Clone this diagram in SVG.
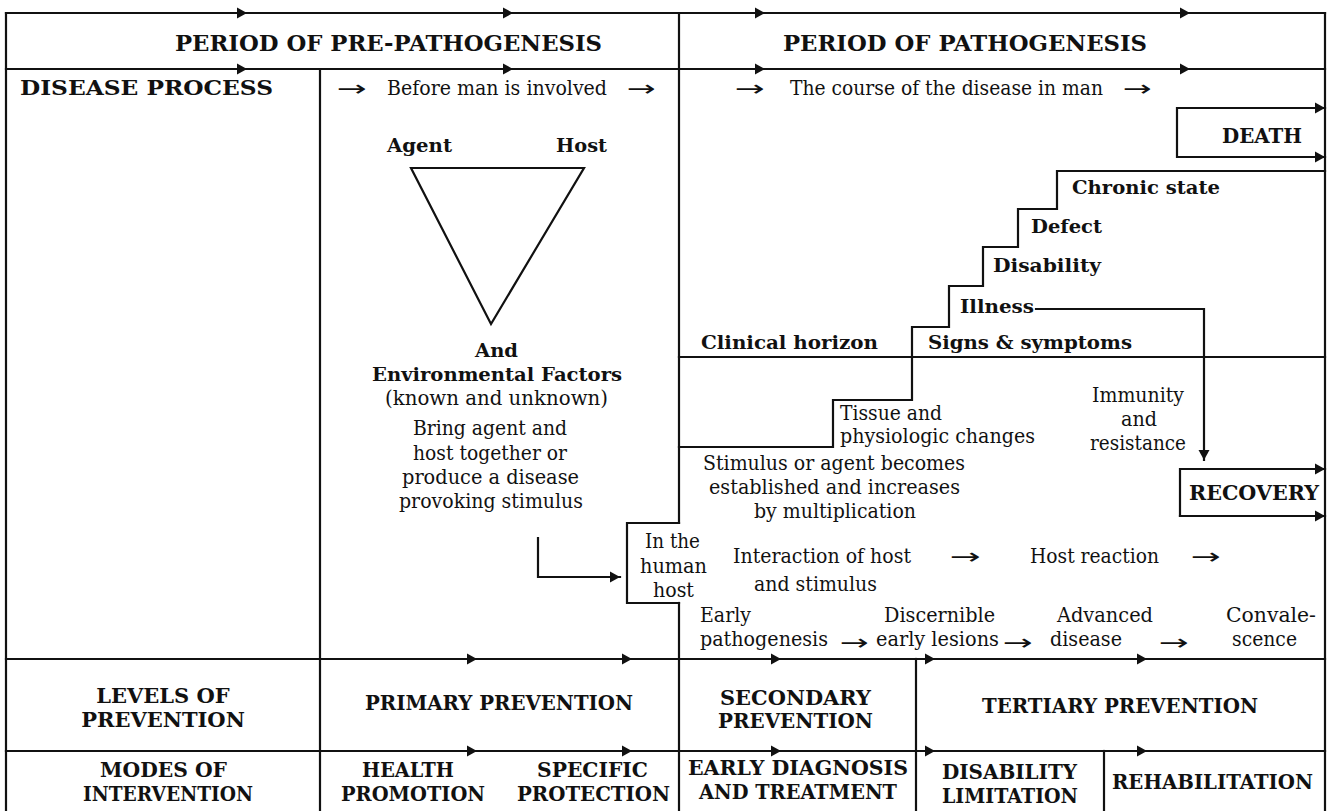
<svg xmlns="http://www.w3.org/2000/svg" xmlns:xlink="http://www.w3.org/1999/xlink" width="1332" height="811" viewBox="0 0 1332 811">
<defs>
<style>
.ln{stroke:#111;stroke-width:2.2;fill:none;stroke-linecap:square}
.tri{fill:#111}
.b{font-family:"DejaVu Serif","Liberation Serif",serif;font-weight:bold;fill:#111}
.r{font-family:"DejaVu Serif","Liberation Serif",serif;font-weight:normal;fill:#111;font-size:20px}
.ar{font-family:"DejaVu Sans","DejaVu Serif",sans-serif;font-weight:normal;fill:#111;font-size:22px}
.h{font-size:23px}
.m{font-size:21px}
.s{font-size:19px}
.c{text-anchor:middle}
</style>
<path id="ah" class="tri" d="M-10,-5.5 L0,0 L-10,5.5 Z"/>
<marker id="arr" markerWidth="12" markerHeight="12" refX="10" refY="6" orient="auto" markerUnits="userSpaceOnUse">
<path d="M0,0.5 L10,6 L0,11.5 Z" fill="#111"/>
</marker>
</defs>
<rect width="1332" height="811" fill="#fff"/>

<g id="frame">
<line class="ln" x1="6" y1="13" x2="1325" y2="13"/>
<line class="ln" x1="6" y1="13" x2="6" y2="811"/>
<line class="ln" x1="1325" y1="13" x2="1325" y2="811"/>
<line class="ln" x1="6" y1="69" x2="1325" y2="69"/>
<line class="ln" x1="320" y1="69" x2="320" y2="811"/>
<line class="ln" x1="679" y1="13" x2="679" y2="523"/>
<line class="ln" x1="679" y1="603" x2="679" y2="811"/>
<line class="ln" x1="6" y1="659" x2="1325" y2="659"/>
<line class="ln" x1="6" y1="751" x2="1325" y2="751"/>
<line class="ln" x1="916" y1="659" x2="916" y2="811"/>
<line class="ln" x1="1104" y1="751" x2="1104" y2="811"/>
<line class="ln" x1="679" y1="357" x2="1325" y2="357"/>
</g>

<g id="row-arrows">
<use xlink:href="#ah" x="247" y="13"/><use xlink:href="#ah" x="513" y="13"/><use xlink:href="#ah" x="765" y="13"/><use xlink:href="#ah" x="1190" y="13"/>
<use xlink:href="#ah" x="247" y="69"/><use xlink:href="#ah" x="513" y="69"/><use xlink:href="#ah" x="765" y="69"/><use xlink:href="#ah" x="1190" y="69"/>
<use xlink:href="#ah" x="477" y="659"/><use xlink:href="#ah" x="632" y="659"/><use xlink:href="#ah" x="781" y="659"/><use xlink:href="#ah" x="935" y="659"/><use xlink:href="#ah" x="1147" y="659"/>
<use xlink:href="#ah" x="477" y="751"/><use xlink:href="#ah" x="632" y="751"/><use xlink:href="#ah" x="781" y="751"/><use xlink:href="#ah" x="935" y="751"/><use xlink:href="#ah" x="1147" y="751"/>
</g>

<g id="headers">
<text class="b h" x="175" y="51" textLength="427" lengthAdjust="spacingAndGlyphs">PERIOD OF PRE-PATHOGENESIS</text>
<text class="b h" x="783" y="51" textLength="364" lengthAdjust="spacingAndGlyphs">PERIOD OF PATHOGENESIS</text>
<text class="b m" x="20" y="95" textLength="253" lengthAdjust="spacingAndGlyphs">DISEASE PROCESS</text>
<text class="ar" x="337" y="96" textLength="30" lengthAdjust="spacingAndGlyphs">→</text>
<text class="r" x="387" y="95" textLength="220" lengthAdjust="spacingAndGlyphs">Before man is involved</text>
<text class="ar" x="627" y="96" textLength="29" lengthAdjust="spacingAndGlyphs">→</text>
<text class="ar" x="735" y="96" textLength="30" lengthAdjust="spacingAndGlyphs">→</text>
<text class="r" x="790" y="95" textLength="313" lengthAdjust="spacingAndGlyphs">The course of the disease in man</text>
<text class="ar" x="1123" y="96" textLength="29" lengthAdjust="spacingAndGlyphs">→</text>
</g>

<g id="triad">
<polygon class="ln" points="411,168 584,168 491,324" stroke-linejoin="miter"/>
<text class="b s" x="387" y="152" textLength="65" lengthAdjust="spacingAndGlyphs">Agent</text>
<text class="b s" x="556" y="152" textLength="51" lengthAdjust="spacingAndGlyphs">Host</text>
<text class="b s" x="475" y="357" textLength="43" lengthAdjust="spacingAndGlyphs">And</text>
<text class="b s" x="372" y="381" textLength="250" lengthAdjust="spacingAndGlyphs">Environmental Factors</text>
<text class="r" x="385" y="405" textLength="223" lengthAdjust="spacingAndGlyphs">(known  and unknown)</text>
<text class="r" x="413" y="435" textLength="154" lengthAdjust="spacingAndGlyphs">Bring agent and</text>
<text class="r" x="413" y="460" textLength="154" lengthAdjust="spacingAndGlyphs">host together or</text>
<text class="r" x="402" y="484" textLength="177" lengthAdjust="spacingAndGlyphs">produce  a disease</text>
<text class="r" x="399" y="508" textLength="184" lengthAdjust="spacingAndGlyphs">provoking stimulus</text>
</g>

<g id="human-host">
<polyline class="ln" points="679,523 627,523 627,603 679,603"/>
<text class="r" x="645" y="548" textLength="55" lengthAdjust="spacingAndGlyphs">In the</text>
<text class="r" x="640" y="573" textLength="67" lengthAdjust="spacingAndGlyphs">human</text>
<text class="r" x="653" y="597" textLength="41" lengthAdjust="spacingAndGlyphs">host</text>
</g>

<g id="death">
<text class="b m" x="1222" y="143" textLength="80" lengthAdjust="spacingAndGlyphs">DEATH</text>
</g>

<g id="staircase">
<polyline class="ln" points="1325,171 1057,171 1057,209 1018,209 1018,247 983,247 983,286 949,286 949,327 912,327 912,400 833,400 833,447 679,447"/>
<text class="b s" x="1072" y="194" textLength="148" lengthAdjust="spacingAndGlyphs">Chronic state</text>
<text class="b s" x="1031" y="233" textLength="71" lengthAdjust="spacingAndGlyphs">Defect</text>
<text class="b s" x="993" y="272" textLength="108" lengthAdjust="spacingAndGlyphs">Disability</text>
<text class="b s" x="960" y="313" textLength="74" lengthAdjust="spacingAndGlyphs">Illness</text>
<text class="b s" x="928" y="349" textLength="204" lengthAdjust="spacingAndGlyphs">Signs &amp; symptoms</text>
<text class="b s" x="701" y="349" textLength="177" lengthAdjust="spacingAndGlyphs">Clinical horizon</text>
</g>

<g id="subclinical">
<text class="r" x="840" y="420" textLength="102" lengthAdjust="spacingAndGlyphs">Tissue and</text>
<text class="r" x="840" y="443" textLength="195" lengthAdjust="spacingAndGlyphs">physiologic changes</text>
<text class="r" x="703" y="470" textLength="262" lengthAdjust="spacingAndGlyphs">Stimulus or agent becomes</text>
<text class="r" x="709" y="494" textLength="251" lengthAdjust="spacingAndGlyphs">established  and increases</text>
<text class="r" x="754" y="518" textLength="162" lengthAdjust="spacingAndGlyphs">by multiplication</text>
</g>

<g id="immunity">
<text class="r" x="1092" y="402" textLength="92" lengthAdjust="spacingAndGlyphs">Immunity</text>
<text class="r" x="1121" y="426" textLength="36" lengthAdjust="spacingAndGlyphs">and</text>
<text class="r" x="1090" y="450" textLength="96" lengthAdjust="spacingAndGlyphs">resistance</text>
</g>

<g id="recovery">
<text class="b m" x="1189" y="500" textLength="130" lengthAdjust="spacingAndGlyphs">RECOVERY</text>
</g>

<g id="interaction">
<text class="r" x="733" y="563" textLength="178" lengthAdjust="spacingAndGlyphs">Interaction of host</text>
<text class="r" x="754" y="591" textLength="123" lengthAdjust="spacingAndGlyphs">and stimulus</text>
<text class="ar" x="950" y="564" textLength="31" lengthAdjust="spacingAndGlyphs">→</text>
<text class="r" x="1030" y="563" textLength="129" lengthAdjust="spacingAndGlyphs">Host reaction</text>
<text class="ar" x="1191" y="564" textLength="30" lengthAdjust="spacingAndGlyphs">→</text>
</g>

<g id="stages">
<text class="r" x="700" y="622" textLength="51" lengthAdjust="spacingAndGlyphs">Early</text>
<text class="r" x="700" y="646" textLength="128" lengthAdjust="spacingAndGlyphs">pathogenesis</text>
<text class="ar" x="840" y="650" textLength="29" lengthAdjust="spacingAndGlyphs">→</text>
<text class="r" x="884" y="622" textLength="111" lengthAdjust="spacingAndGlyphs">Discernible</text>
<text class="r" x="876" y="646" textLength="123" lengthAdjust="spacingAndGlyphs">early lesions</text>
<text class="ar" x="1003" y="650" textLength="30" lengthAdjust="spacingAndGlyphs">→</text>
<text class="r" x="1057" y="622" textLength="96" lengthAdjust="spacingAndGlyphs">Advanced</text>
<text class="r" x="1050" y="646" textLength="72" lengthAdjust="spacingAndGlyphs">disease</text>
<text class="ar" x="1159" y="650" textLength="30" lengthAdjust="spacingAndGlyphs">→</text>
<text class="r" x="1226" y="622" textLength="90" lengthAdjust="spacingAndGlyphs">Convale-</text>
<text class="r" x="1232" y="646" textLength="65" lengthAdjust="spacingAndGlyphs">scence</text>
</g>

<g id="levels">
<text class="b m c" x="163" y="703">LEVELS OF</text>
<text class="b m c" x="163" y="727">PREVENTION</text>
<text class="b m" x="365" y="710" textLength="268" lengthAdjust="spacingAndGlyphs">PRIMARY PREVENTION</text>
<text class="b m" x="720" y="705" textLength="151" lengthAdjust="spacingAndGlyphs">SECONDARY</text>
<text class="b m" x="718" y="728" textLength="155" lengthAdjust="spacingAndGlyphs">PREVENTION</text>
<text class="b m" x="982" y="713" textLength="276" lengthAdjust="spacingAndGlyphs">TERTIARY PREVENTION</text>
</g>

<g id="modes">
<text class="b m" x="100" y="777" textLength="127" lengthAdjust="spacingAndGlyphs">MODES OF</text>
<text class="b m" x="83" y="801" textLength="170" lengthAdjust="spacingAndGlyphs">INTERVENTION</text>
<text class="b m" x="362" y="777" textLength="92" lengthAdjust="spacingAndGlyphs">HEALTH</text>
<text class="b m" x="341" y="801" textLength="144" lengthAdjust="spacingAndGlyphs">PROMOTION</text>
<text class="b m" x="537" y="777" textLength="111" lengthAdjust="spacingAndGlyphs">SPECIFIC</text>
<text class="b m" x="517" y="801" textLength="153" lengthAdjust="spacingAndGlyphs">PROTECTION</text>
<text class="b m" x="688" y="775" textLength="220" lengthAdjust="spacingAndGlyphs">EARLY DIAGNOSIS</text>
<text class="b m" x="699" y="799" textLength="198" lengthAdjust="spacingAndGlyphs">AND TREATMENT</text>
<text class="b m" x="942" y="779" textLength="135" lengthAdjust="spacingAndGlyphs">DISABILITY</text>
<text class="b m" x="942" y="803" textLength="136" lengthAdjust="spacingAndGlyphs">LIMITATION</text>
<text class="b m" x="1112" y="789" textLength="201" lengthAdjust="spacingAndGlyphs">REHABILITATION</text>
</g>

<g id="connectors">
<polyline class="ln" points="1325,108 1177,108 1177,157 1325,157"/>
<use xlink:href="#ah" x="1325" y="108"/>
<use xlink:href="#ah" x="1325" y="157"/>
<polyline class="ln" points="1180,516 1180,469 1325,469"/>
<line class="ln" x1="1180" y1="516" x2="1325" y2="516"/>
<use xlink:href="#ah" x="1325" y="469"/>
<use xlink:href="#ah" x="1325" y="516"/>
<polyline class="ln" points="1036,309 1204,309 1204,460" marker-end="url(#arr)"/>
<polyline class="ln" points="538,538 538,577 620,577" marker-end="url(#arr)"/>
</g>
</svg>
